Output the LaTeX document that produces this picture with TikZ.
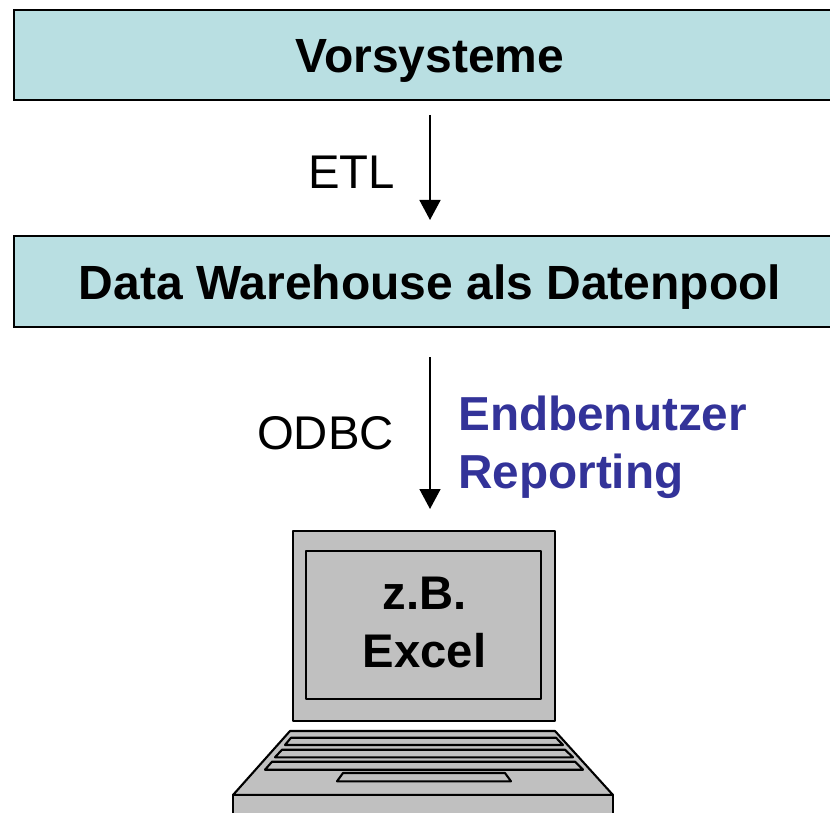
\documentclass[tikz,border=0pt]{standalone}
\usepackage{fontspec}
\setmainfont{Liberation Sans}
\usetikzlibrary{arrows.meta}
\definecolor{boxfill}{HTML}{B9DFE2}
\definecolor{pcgray}{HTML}{C0C0C0}
\definecolor{repblue}{HTML}{333399}
\tikzset{
  x=1pt,y=-1pt,
  bandbox/.style={draw=black,line width=2pt,fill=boxfill,minimum width=832pt,inner sep=0pt,text height=42pt,text depth=6pt,font=\fontsize{48}{50}\selectfont\bfseries,text=black},
  pcpart/.style={draw=black,line width=2.1pt,fill=pcgray,line join=round},
  flow/.style={draw=black,line width=1.6pt,-{Triangle[length=20pt,width=21pt]}},
  plainlabel/.style={font=\fontsize{47.3}{50}\selectfont,inner sep=0pt,anchor=base east},
  bluelabel/.style={font=\fontsize{47.7}{50}\selectfont\bfseries,text=repblue,inner sep=0pt,anchor=base west},
  screenlabel/.style={font=\fontsize{47.2}{58}\selectfont\bfseries,align=center,inner sep=0pt}
}
\begin{document}
\begin{tikzpicture}
\useasboundingbox (0,0) rectangle (830,813);
\clip (0,0) rectangle (830,813);
\node[bandbox,minimum height=90pt] (vors) at (430,55) {Vorsysteme};
\node[bandbox,minimum height=91pt] (dw) at (430,281.5) {Data Warehouse als Datenpool};
\coordinate (oend) at (430,509);
\draw[flow,shorten <=14pt,shorten >=15pt] (vors.south) -- (dw.north);
\draw[flow,shorten <=29pt] (dw.south) -- (oend);
\node[plainlabel] (etl) at (395,189) {ETL};
\node[plainlabel] (odbc) at (394,449) {ODBC};
\node[bluelabel] (end) at (458,430) {Endbenutzer};
\node[bluelabel] (rep) at (458,488) {Reporting};
% laptop
\draw[pcpart] (293,531) rectangle (555,721);
\draw[pcpart] (306,551) rectangle (541,699);
\node[screenlabel] (excel) at (424.5,622) {z.B.\\Excel};
\draw[pcpart] (290,731) -- (555,731) -- (613,795) -- (233,795) -- cycle;
\draw[pcpart] (233,795) rectangle (613,830);
\draw[pcpart] (291,737.7) -- (556,737.7) -- (563,745) -- (285,745) -- cycle;
\draw[pcpart] (282,749.7) -- (565,749.7) -- (573,757.3) -- (275,757.3) -- cycle;
\draw[pcpart] (272,761.7) -- (575,761.7) -- (583,769.7) -- (265,769.7) -- cycle;
\draw[pcpart] (343,773) -- (505,773) -- (511,781.3) -- (337,781.3) -- cycle;
\end{tikzpicture}
\end{document}
